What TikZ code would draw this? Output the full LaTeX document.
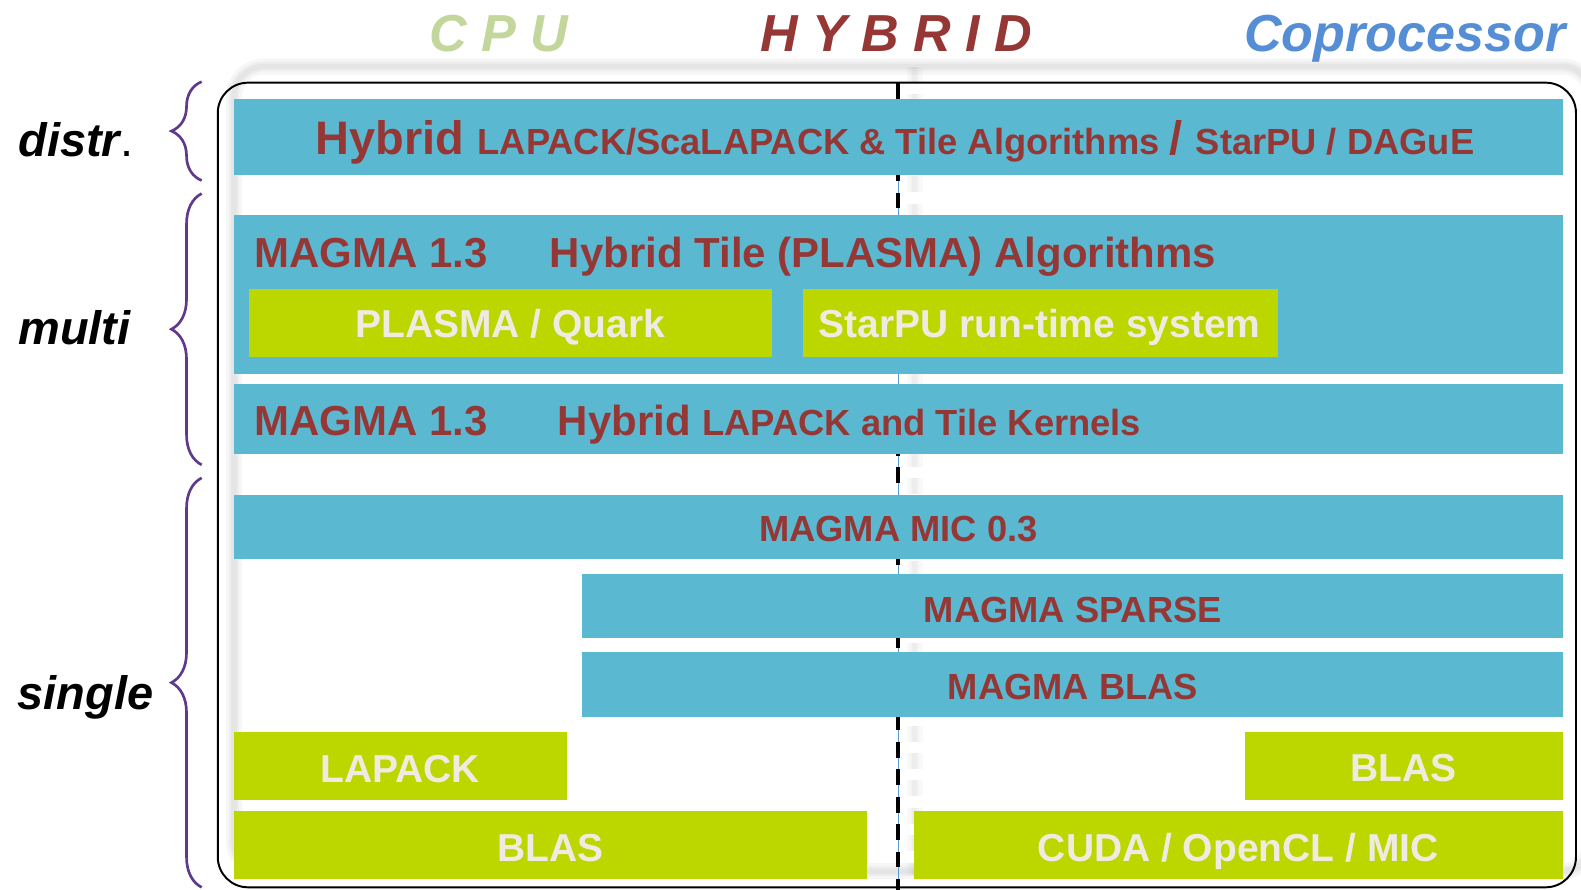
\documentclass[tikz,border=0pt]{standalone}
\usepackage{fontspec}
\setmainfont{Liberation Sans}
\usepackage{tikz}
\usetikzlibrary{decorations.pathreplacing}

\definecolor{layerblue}{HTML}{5BB8D1}
\definecolor{layergreen}{HTML}{BCD600}
\definecolor{magmared}{HTML}{953735}
\definecolor{offwhite}{HTML}{EEECE1}
\definecolor{cpugreen}{HTML}{C3D69B}
\definecolor{coproblue}{HTML}{558ED5}
\definecolor{bracepurple}{HTML}{5F3A8C}
\definecolor{guideblue}{HTML}{5B9BD5}

\newcommand{\sizeTitle}{\fontsize{29.4}{33}\selectfont\bfseries\itshape}
\newcommand{\sizeSide}{\fontsize{26.5}{30}\selectfont\bfseries\itshape}
\newcommand{\sizeBig}{\fontsize{26.5}{30}\selectfont}
\newcommand{\sizeMid}{\fontsize{23.7}{27}\selectfont}
\newcommand{\sizeGreen}{\fontsize{22}{26}\selectfont}
\newcommand{\sizeSmall}{\fontsize{20.5}{24}\selectfont}

\begin{document}
\begin{tikzpicture}[
  x=0.02cm, y=-0.02cm,
  every node/.style = {inner sep=0pt, font=\bfseries},
  bluelayer/.style = {fill=layerblue},
  greenlayer/.style = {fill=layergreen},
  onblue/.style = {text=magmared},
  ongreen/.style = {text=offwhite},
  sidebrace/.style = {draw=bracepurple, line width=1.5pt, decorate,
                      decoration={brace, amplitude=0.6cm}},
  frameshadow/.style = {black, opacity=0.035},
  splitline/.style = {line width=2.3pt, dash pattern=on 9pt off 6.5pt}
]

\useasboundingbox (0,0) rectangle (1568,882);

% Frame coordinates
\coordinate (frameNW) at (216,82);
\coordinate (frameSE) at (1563,880);
\coordinate (splitTop) at (891,82);
\coordinate (splitBot) at (891,884);

% Soft shadow of frame and divider
\foreach \w in {9pt,5.5pt,3pt} {
  \draw[frameshadow, line width=\w, rounded corners=0.6cm]
    ([shift={(16,-16)}]frameNW) rectangle ([shift={(16,-16)}]frameSE);
  \draw[frameshadow, opacity=0.025, line width=\w, dash pattern=on 9pt off 6.5pt]
    ([shift={(16,-16)}]splitTop) -- ([shift={(16,-16)}]splitBot);
}

% Frame and CPU / coprocessor divider
\draw[line width=1.1pt, rounded corners=0.6cm] (frameNW) rectangle (frameSE);
\draw[guideblue, line width=0.5pt] (splitTop) -- (splitBot);
\draw[splitline] (splitTop) -- (splitBot);

% Column titles
\node[text=cpugreen, anchor=base] (cpu) at (495,51) {\sizeTitle C P U};
\node[text=magmared, anchor=base] (hybrid) at (889,51) {\sizeTitle H Y B R I D};
\node[text=coproblue, anchor=base east] (copro) at (1553,51) {\sizeTitle Coprocessor};

% Side labels and braces
\node[anchor=base west] (distr) at (18,155) {\sizeSide distr{\upshape\mdseries.}};
\node[anchor=base west] (multi) at (18,342) {\sizeSide multi};
\node[anchor=base west] (single) at (17,704) {\sizeSide single};
\draw[sidebrace] (200,179) -- (200,81);
\draw[sidebrace] (200,461) -- (200,192);
\draw[sidebrace] (200,880) -- (200,474);

% distributed layer
\fill[bluelayer] (232,98) rectangle (1550,174);
\node[onblue, anchor=base west] (distrtext) at (313,153)
  {\sizeBig Hybrid \sizeSmall LAPACK/ScaLAPACK \& Tile Algorithms \sizeBig/ \sizeSmall StarPU / DAGuE};

% multi-device layers
\fill[bluelayer] (232,213) rectangle (1550,371);
\node[onblue, anchor=base west] (tilemagma) at (252,265) {\sizeMid MAGMA 1.3};
\node[onblue, anchor=base west] (tilealgs) at (545,265) {\sizeMid Hybrid Tile (PLASMA) Algorithms};
\fill[greenlayer] (247,287) rectangle (766,354);
\node[ongreen, anchor=base] (quark) at (506,335) {\sizeGreen PLASMA / Quark};
\fill[greenlayer] (796,287) rectangle (1267,354);
\node[ongreen, anchor=base] (starpu) at (1031,335) {\sizeGreen StarPU run-time system};

\fill[bluelayer] (232,381) rectangle (1550,450);
\node[onblue, anchor=base west] (kernmagma) at (252,432) {\sizeMid MAGMA 1.3};
\node[onblue, anchor=base west] (kerntext) at (553,432)
  {\sizeMid Hybrid \sizeSmall LAPACK and Tile Kernels};

% single-device layers
\fill[bluelayer] (232,491) rectangle (1550,554);
\node[onblue, anchor=base] (mic) at (891,537) {\sizeSmall MAGMA MIC 0.3};
\fill[bluelayer] (577,569) rectangle (1550,633);
\node[onblue, anchor=base] (sparse) at (1064,617) {\sizeSmall MAGMA SPARSE};
\fill[bluelayer] (577,647) rectangle (1550,711);
\node[onblue, anchor=base] (mblas) at (1064,694) {\sizeSmall MAGMA BLAS};

% vendor libraries
\fill[greenlayer] (232,726) rectangle (562,793);
\node[ongreen, anchor=base] (lapack) at (397,776) {\sizeGreen LAPACK};
\fill[greenlayer] (1235,726) rectangle (1550,793);
\node[ongreen, anchor=base] (gpublas) at (1392,775) {\sizeGreen BLAS};
\fill[greenlayer] (232,804) rectangle (860,872);
\node[ongreen, anchor=base] (cpublas) at (546,854) {\sizeGreen BLAS};
\fill[greenlayer] (906,804) rectangle (1550,872);
\node[ongreen, anchor=base] (cuda) at (1228,854) {\sizeGreen CUDA / OpenCL / MIC};

\end{tikzpicture}
\end{document}
